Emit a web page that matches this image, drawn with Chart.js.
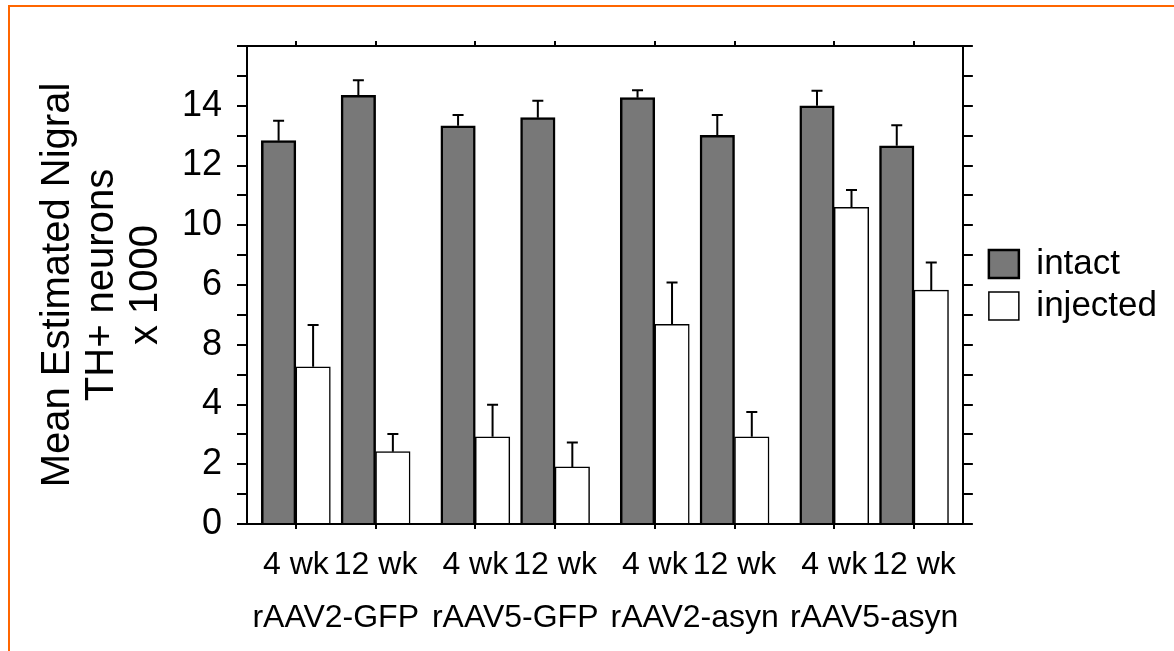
<!DOCTYPE html>
<html>
<head>
<meta charset="utf-8">
<script src="https://cdn.jsdelivr.net/npm/chart.js"></script>
<style>
  html, body { margin: 0; padding: 0; background: #ffffff; overflow: hidden; }
  #wrap { position: relative; width: 1174px; height: 651px; overflow: hidden; }
  #frame { position: absolute; left: 8px; top: 5px; width: 1400px; height: 1000px;
           border: 2px solid #ff6600; box-sizing: border-box; }
  #box { position: absolute; left: 0; top: 0; width: 1174px; height: 651px; }
</style>
</head>
<body>
<div id="wrap">
  <div id="frame"></div>
  <div id="box"><canvas id="c"></canvas></div>
</div>
<script>
// ---- data ----
const categories  = ['4 wk', '12 wk', '4 wk', '12 wk', '4 wk', '12 wk', '4 wk', '12 wk'];
const groups      = ['rAAV2-GFP', 'rAAV5-GFP', 'rAAV2-asyn', 'rAAV5-asyn'];
const intact      = [12.83, 14.35, 13.33, 13.60, 14.27, 13.01, 14.00, 12.66];
const intactErr   = [0.67, 0.50, 0.36, 0.57, 0.25, 0.68, 0.50, 0.69];
const injected    = [5.26, 2.42, 2.92, 1.91, 6.68, 2.92, 10.60, 7.83];
const injectedErr = [1.40, 0.59, 1.07, 0.82, 1.40, 0.83, 0.58, 0.92];
const yTickLabels = ['0', '2', '4', '8', '6', '10', '12', '14'];
const seriesNames = ['intact', 'injected'];

// ---- layout helpers (category position with a wider gap between groups) ----
const GROUP_GAP = 0.25;
const xPos = i => i + Math.floor(i / 2) * GROUP_GAP;
const groupCenter = g => (xPos(2 * g) + xPos(2 * g + 1)) / 2;
const X_MIN = -0.6125, X_MAX = 8.3625;

const FONT = "'Liberation Sans', Arial, sans-serif";
Chart.defaults.color = '#000';
Chart.defaults.font.family = FONT;

const errMap = [intactErr, injectedErr];

const errorBars = {
  id: 'errorBars',
  afterDatasetsDraw(chart) {
    const ctx = chart.ctx;
    const ys = chart.scales.y;
    ctx.save();
    ctx.strokeStyle = '#000';
    ctx.lineWidth = 2;
    chart.data.datasets.forEach((ds, d) => {
      const meta = chart.getDatasetMeta(d);
      meta.data.forEach((el, i) => {
        const v = ds.data[i].y;
        const e = errMap[d][i];
        const x = el.x;
        const y0 = ys.getPixelForValue(v);
        const y1 = ys.getPixelForValue(v + e);
        ctx.beginPath();
        ctx.moveTo(x, y0);
        ctx.lineTo(x, y1);
        ctx.moveTo(x - 5.5, y1);
        ctx.lineTo(x + 5.5, y1);
        ctx.stroke();
      });
    });
    ctx.restore();
  }
};

const makeTicks = arr => arr.map(v => ({ value: v }));

new Chart(document.getElementById('c'), {
  type: 'bar',
  data: {
    datasets: [
      {
        label: seriesNames[0],
        data: intact.map((v, i) => ({ x: xPos(i), y: v })),
        backgroundColor: '#787878',
        borderColor: '#000',
        borderWidth: 2.5,
        barThickness: 34.5
      },
      {
        label: seriesNames[1],
        data: injected.map((v, i) => ({ x: xPos(i), y: v })),
        backgroundColor: '#ffffff',
        borderColor: '#000',
        borderWidth: 1.5,
        barThickness: 34.5
      }
    ]
  },
  options: {
    responsive: true,
    maintainAspectRatio: false,
    animation: false,
    layout: { padding: { left: 0, top: 0, bottom: 0, right: 7 } },
    plugins: {
      tooltip: { enabled: false },
      legend: {
        position: 'right',
        fullSize: false,
        onClick: null,
        labels: {
          boxWidth: 30,
          boxHeight: 28,
          padding: 7,
          color: '#000',
          font: { family: FONT, size: 35 }
        }
      }
    },
    scales: {
      x: {
        type: 'linear',
        position: 'bottom',
        weight: 0,
        offset: false,
        grace: 0,
        min: X_MIN, max: X_MAX,
        afterBuildTicks: s => { s.ticks = makeTicks(categories.map((c, i) => xPos(i))); },
        afterFit: s => { s.height = 60; },
        ticks: {
          autoSkip: false, maxRotation: 0, minRotation: 0, padding: 17,
          color: '#000',
          font: { family: FONT, size: 32 },
          callback: (v, i) => categories[i]
        },
        grid: { offset: false, drawOnChartArea: false, drawTicks: true, tickLength: 5, color: '#000', lineWidth: 2 },
        border: { display: true, color: '#000', width: 2 }
      },
      x2: {
        type: 'linear',
        position: 'bottom',
        weight: 1,
        offset: false,
        min: X_MIN, max: X_MAX,
        afterBuildTicks: s => { s.ticks = makeTicks(groups.map((g, i) => groupCenter(i))); },
        afterFit: s => { s.height = 67; },
        ticks: {
          autoSkip: false, maxRotation: 0, minRotation: 0, padding: 7,
          color: '#000',
          font: { family: FONT, size: 32 },
          callback: (v, i) => groups[i]
        },
        grid: { display: false, offset: false },
        border: { display: false }
      },
      xTop: {
        type: 'linear',
        position: 'top',
        offset: false,
        min: X_MIN, max: X_MAX,
        afterBuildTicks: s => { s.ticks = makeTicks(categories.map((c, i) => xPos(i))); },
        afterFit: s => { s.height = 46; },
        ticks: { display: false },
        grid: { offset: false, drawOnChartArea: false, drawTicks: true, tickLength: 5, color: '#000', lineWidth: 2 },
        border: { display: true, color: '#000', width: 2 }
      },
      y: {
        type: 'linear',
        position: 'left',
        min: 0, max: 16,
        afterBuildTicks: s => { const t = []; for (let v = 0; v <= 16; v++) t.push({ value: v }); s.ticks = t; },
        afterFit: s => { s.width = 247; },
        ticks: {
          autoSkip: false, padding: 15,
          color: '#000',
          font: { family: FONT, size: 36 },
          callback: v => (v % 2 === 0 && yTickLabels[v / 2] !== undefined) ? yTickLabels[v / 2] : ''
        },
        title: {
          display: true,
          text: ['Mean Estimated Nigral', 'TH+ neurons', 'x 1000'],
          color: '#000',
          font: { family: FONT, size: 40, lineHeight: 1.1 },
          padding: { top: 36, bottom: 0 }
        },
        grid: { drawOnChartArea: false, drawTicks: true, tickLength: 10, color: '#000', lineWidth: 2 },
        border: { display: true, color: '#000', width: 2 }
      },
      yR: {
        type: 'linear',
        position: 'right',
        min: 0, max: 16,
        afterBuildTicks: s => { const t = []; for (let v = 0; v <= 16; v++) t.push({ value: v }); s.ticks = t; },
        afterFit: s => { s.width = 19; },
        ticks: { display: false },
        grid: { drawOnChartArea: false, drawTicks: true, tickLength: 10, color: '#000', lineWidth: 2 },
        border: { display: true, color: '#000', width: 2 }
      }
    }
  },
  plugins: [errorBars]
});
</script>
</body>
</html>
